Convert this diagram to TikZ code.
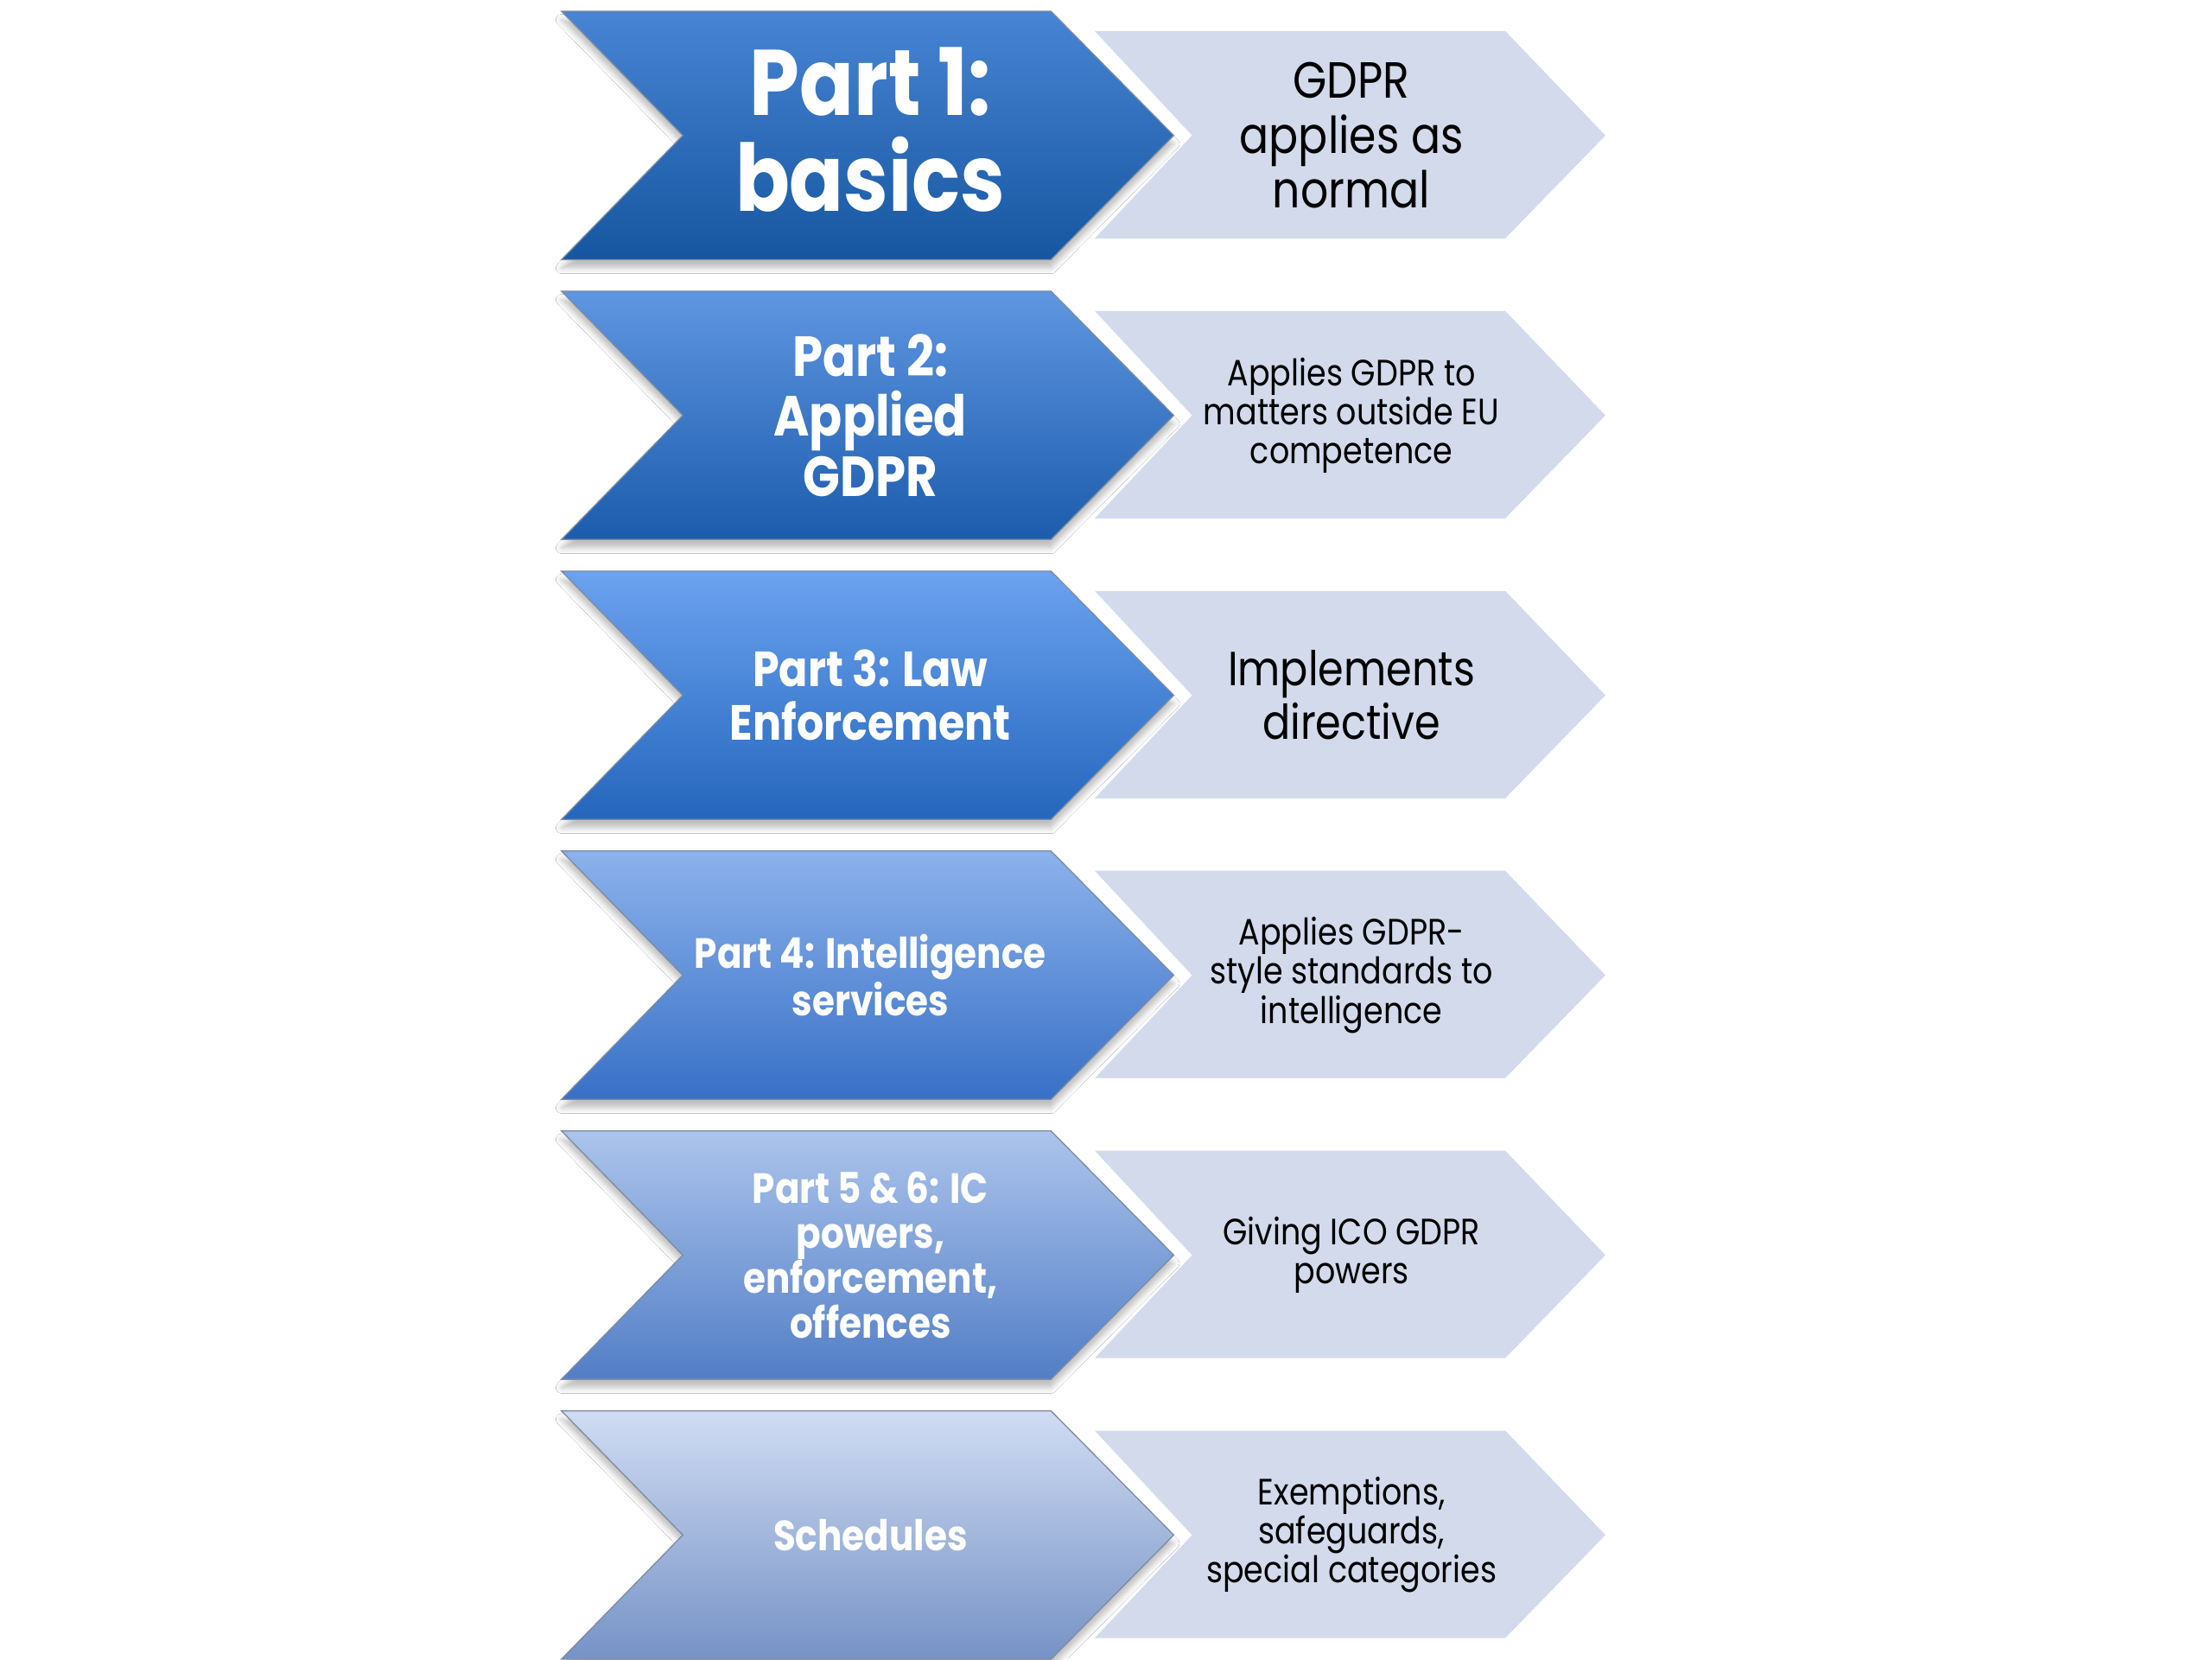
\documentclass[tikz,border=0pt]{standalone}
\usepackage{fontspec}
\setmainfont[FakeStretch=0.86]{Poppins}
\usetikzlibrary{shadows.blur}
\definecolor{descgray}{RGB}{211,218,236}
\definecolor{edgeblue}{RGB}{70,90,120}
\definecolor{ra}{RGB}{72,132,212}\definecolor{rA}{RGB}{22,86,160}
\definecolor{rb}{RGB}{95,150,226}\definecolor{rB}{RGB}{28,92,172}
\definecolor{rc}{RGB}{108,162,240}\definecolor{rC}{RGB}{36,102,188}
\definecolor{rd}{RGB}{140,178,236}\definecolor{rD}{RGB}{56,112,198}
\definecolor{re}{RGB}{172,196,236}\definecolor{rE}{RGB}{82,126,198}
\definecolor{rf}{RGB}{208,220,242}\definecolor{rF}{RGB}{118,146,198}
\tikzset{
  partshape/.style={draw=edgeblue!70, line width=0.8pt, line join=miter,
    blur shadow={shadow xshift=0pt, shadow yshift=-6pt, shadow blur radius=4pt, shadow opacity=25}},
  descshape/.style={fill=descgray},
  parttext/.style={text=white, align=center, inner sep=0pt},
  desctext/.style={text=black, align=center, inner sep=0pt},
}
\newcommand\rowshapes[3]{%
  \path[partshape, top color=#2, bottom color=#3]
    (398,8) -- (745,8) -- (832,96) -- (745,184) -- (398,184) -- (484,96) -- cycle;
  \path[descshape]
    (776,22) -- (1067,22) -- (1138,96) -- (1067,169) -- (776,169) -- (845,96) -- cycle;
  \coordinate (pc#1) at (617,96);
  \coordinate (dc#1) at (958,96);
}
\begin{document}
\begin{tikzpicture}[x=1pt,y=-1pt]
\useasboundingbox[fill=white] (0,0) rectangle (1568,1176);
\begin{scope}
  \rowshapes{1}{ra}{rA}
  \node[parttext, font=\fontsize{66}{68}\selectfont\bfseries, yshift=4pt] (p1) at (pc1) {Part 1:\\basics};
  \node[desctext, font=\fontsize{36}{39}\selectfont] (d1) at (dc1) {GDPR\\applies as\\normal};
\end{scope}
\begin{scope}[yshift=-198.4pt]
  \rowshapes{2}{rb}{rB}
  \node[parttext, font=\fontsize{40}{42.5}\selectfont\bfseries] (p2) at (pc2) {Part 2:\\Applied\\GDPR};
  \node[desctext, font=\fontsize{26}{27.5}\selectfont] (d2) at (dc2) {Applies GDPR to\\matters outside EU\\competence};
\end{scope}
\begin{scope}[yshift=-396.8pt]
  \rowshapes{3}{rc}{rC}
  \node[parttext, font=\fontsize{35}{38}\selectfont\bfseries] (p3) at (pc3) {Part 3: Law\\Enforcement};
  \node[desctext, font=\fontsize{34}{38}\selectfont] (d3) at (dc3) {Implements\\directive};
\end{scope}
\begin{scope}[yshift=-595.2pt]
  \rowshapes{4}{rd}{rD}
  \node[parttext, font=\fontsize{30}{34}\selectfont\bfseries] (p4) at (pc4) {Part 4: Intelligence\\services};
  \node[desctext, font=\fontsize{26}{28}\selectfont] (d4) at (dc4) {Applies GDPR-\\style standards to\\intelligence};
\end{scope}
\begin{scope}[yshift=-793.6pt]
  \rowshapes{5}{re}{rE}
  \node[parttext, font=\fontsize{30}{32}\selectfont\bfseries] (p5) at (pc5) {Part 5 \& 6: IC\\powers,\\enforcement,\\offences};
  \node[desctext, font=\fontsize{26}{28}\selectfont] (d5) at (dc5) {Giving ICO GDPR\\powers};
\end{scope}
\begin{scope}[yshift=-992pt]
  \rowshapes{6}{rf}{rF}
  \node[parttext, font=\fontsize{30}{32}\selectfont\bfseries] (p6) at (pc6) {Schedules};
  \node[desctext, font=\fontsize{26}{27.5}\selectfont] (d6) at (dc6) {Exemptions,\\safeguards,\\special categories};
\end{scope}
\end{tikzpicture}
\end{document}
